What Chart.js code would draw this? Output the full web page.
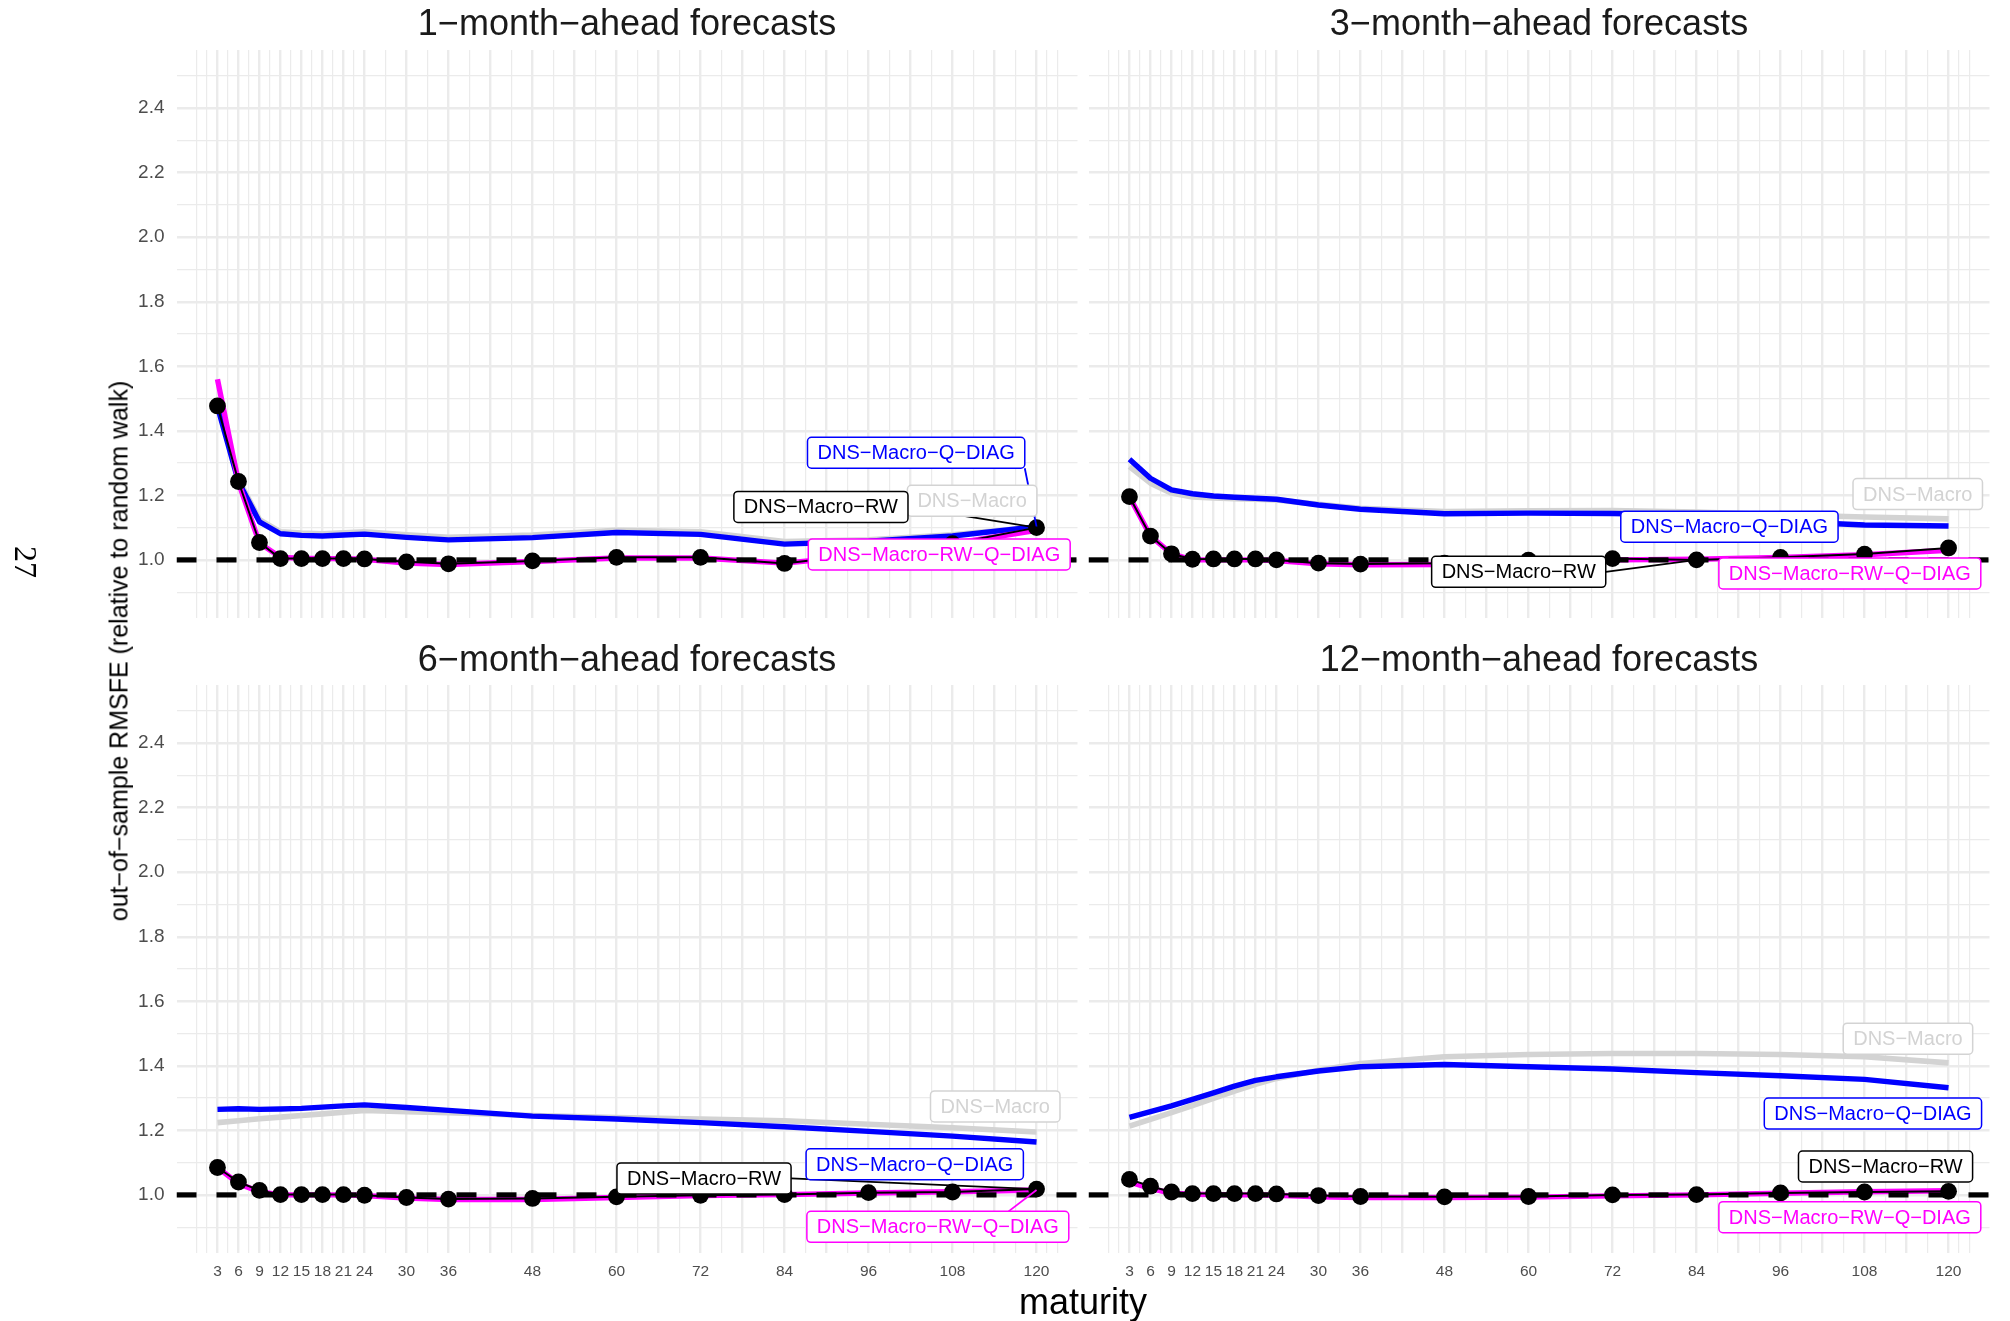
<!DOCTYPE html>
<html>
<head>
<meta charset="utf-8">
<title>Out-of-sample RMSFE by maturity</title>
<script src="https://cdn.jsdelivr.net/npm/chart.js@4.4.1/dist/chart.umd.min.js"></script>
<style>
  html, body { margin: 0; padding: 0; background: #ffffff; }
  #page { position: relative; width: 2010px; height: 1321px; overflow: hidden;
          font-family: "Liberation Sans", Arial, sans-serif; }
  #page canvas { position: absolute; left: 0; top: 0; }
  .txt { position: absolute; white-space: nowrap; line-height: 1; transform: translate(-50%, -50%); }
</style>
</head>
<body>
<div id="page">
  <canvas id="p1" width="2010" height="1321"></canvas>
  <canvas id="p2" width="2010" height="1321"></canvas>
  <canvas id="p3" width="2010" height="1321"></canvas>
  <canvas id="p4" width="2010" height="1321"></canvas>
</div>
<script>
// ---- data -----------------------------------------------------------------
const maturities = [3, 6, 9, 12, 15, 18, 21, 24, 30, 36, 48, 60, 72, 84, 96, 108, 120];

// x breaks (labelled ones are the maturities) and y breaks
const xBreaks = [3, 6, 9, 12, 15, 18, 21, 24, 30, 36, 42, 48, 54, 60, 66, 72, 78, 84, 90, 96, 102, 108, 114, 120];
const xTickLabels = [3, 6, 9, 12, 15, 18, 21, 24, 30, 36, 48, 60, 72, 84, 96, 108, 120];
const yTickLabels = [1.0, 1.2, 1.4, 1.6, 1.8, 2.0, 2.2, 2.4];

const panelTitles = ['1\u2212month\u2212ahead forecasts', '3\u2212month\u2212ahead forecasts',
                     '6\u2212month\u2212ahead forecasts', '12\u2212month\u2212ahead forecasts'];
const seriesNames = ['DNS\u2212Macro', 'DNS\u2212Macro\u2212Q\u2212DIAG', 'DNS\u2212Macro\u2212RW', 'DNS\u2212Macro\u2212RW\u2212Q\u2212DIAG'];

// 1-month-ahead
const macro_h1  = [1.500, 1.250, 1.125, 1.087, 1.083, 1.081, 1.084, 1.087, 1.078, 1.070, 1.077, 1.092, 1.087, 1.057, 1.062, 1.078, 1.102];
const qdiag_h1  = [1.475, 1.242, 1.118, 1.081, 1.076, 1.074, 1.077, 1.080, 1.070, 1.062, 1.069, 1.085, 1.079, 1.049, 1.058, 1.074, 1.103];
const rw_h1     = [1.477, 1.243, 1.054, 1.004, 1.004, 1.004, 1.004, 1.003, 0.994, 0.988, 0.997, 1.008, 1.008, 0.989, 1.020, 1.050, 1.100];
const rwqdiag_h1= [1.560, 1.240, 1.052, 1.008, 1.005, 1.004, 1.004, 1.002, 0.990, 0.986, 0.995, 1.006, 1.006, 0.990, 1.015, 1.050, 1.092];

// 3-month-ahead
const macro_h3  = [1.289, 1.238, 1.207, 1.195, 1.192, 1.190, 1.188, 1.186, 1.172, 1.160, 1.150, 1.152, 1.153, 1.148, 1.140, 1.133, 1.127];
const qdiag_h3  = [1.312, 1.253, 1.217, 1.205, 1.198, 1.194, 1.191, 1.188, 1.170, 1.157, 1.143, 1.145, 1.144, 1.139, 1.120, 1.108, 1.105];
const rw_h3     = [1.196, 1.074, 1.019, 1.002, 1.003, 1.003, 1.003, 1.000, 0.990, 0.987, 0.990, 0.999, 1.004, 1.000, 1.008, 1.018, 1.037];
const rwqdiag_h3= [1.196, 1.074, 1.019, 1.000, 1.000, 1.000, 1.000, 0.998, 0.988, 0.985, 0.986, 0.992, 1.000, 1.002, 1.008, 1.016, 1.030];

// 6-month-ahead
const macro_h6  = [1.224, 1.230, 1.236, 1.241, 1.246, 1.251, 1.256, 1.262, 1.258, 1.255, 1.246, 1.240, 1.235, 1.230, 1.219, 1.208, 1.195];
const qdiag_h6  = [1.265, 1.267, 1.265, 1.266, 1.268, 1.272, 1.276, 1.279, 1.271, 1.262, 1.244, 1.235, 1.224, 1.211, 1.197, 1.182, 1.164];
const rw_h6     = [1.085, 1.040, 1.014, 1.001, 1.001, 1.001, 1.001, 0.999, 0.992, 0.987, 0.989, 0.994, 0.999, 1.001, 1.007, 1.009, 1.018];
const rwqdiag_h6= [1.085, 1.035, 1.010, 1.000, 1.000, 1.000, 1.000, 0.998, 0.990, 0.986, 0.986, 0.992, 0.998, 1.001, 1.006, 1.010, 1.015];

// 12-month-ahead
const macro_h12  = [1.213, 1.234, 1.255, 1.277, 1.299, 1.322, 1.343, 1.361, 1.386, 1.407, 1.428, 1.435, 1.438, 1.438, 1.435, 1.428, 1.409];
const qdiag_h12  = [1.240, 1.258, 1.276, 1.296, 1.316, 1.337, 1.355, 1.366, 1.384, 1.397, 1.404, 1.397, 1.390, 1.379, 1.369, 1.358, 1.332];
const rw_h12     = [1.048, 1.027, 1.009, 1.004, 1.004, 1.004, 1.004, 1.003, 0.998, 0.995, 0.994, 0.995, 1.000, 1.001, 1.006, 1.009, 1.011];
const rwqdiag_h12= [1.040, 1.020, 1.005, 1.002, 1.001, 1.000, 1.000, 0.999, 0.994, 0.992, 0.992, 0.993, 0.997, 1.000, 1.005, 1.010, 1.013];

// random-walk benchmark level
const REF_LEVEL = 1.0;

// ---- styling / layout -------------------------------------------------------
const PAGE_W = 2010, PAGE_H = 1321;
const X_LIMITS = [-2.85, 125.85];
const Y_LIMITS = [0.82, 2.58];
const FONT = '"Liberation Sans", Arial, sans-serif';
const C_GRAY = '#D3D3D3', C_BLUE = '#0000FF', C_BLACK = '#000000', C_MAGENTA = '#FF00FF';
const GRID = '#EBEBEB';
const LABEL_FONT_SIZE = 20, LABEL_PAD_X = 10, LABEL_BOX_H = 31;
const Y_AXIS_W = 70, X_AXIS_H = 45;   // room reserved for tick labels

// plot rectangles [left, top, right, bottom] in page pixels
const panelRects = [
  [176.5, 50, 1077.5, 618],
  [1088.5, 50, 1989.5, 618],
  [176.5, 685, 1077.5, 1253],
  [1088.5, 685, 1989.5, 1253]
];
const titleCenters = [[627, 23], [1539, 23], [627, 659], [1539, 659]];

// ggplot-style minor breaks: midpoints between breaks, extended one step past each end
function minorBreaks(b) {
  const step = b[1] - b[0];
  const ext = [b[0] - step, ...b, b[b.length - 1] + step];
  const out = [];
  for (let i = 0; i < ext.length - 1; i++) { out.push(ext[i], (ext[i] + ext[i + 1]) / 2); }
  out.push(ext[ext.length - 1]);
  return out;
}
const near = (list, v) => list.some(l => Math.abs(l - v) < 1e-6);
const inRange = (v, lim) => v >= lim[0] - 1e-9 && v <= lim[1] + 1e-9;

const xGrid = minorBreaks(xBreaks).filter(v => inRange(v, X_LIMITS));
const yBreaks = yTickLabels;
const yGrid = minorBreaks(yBreaks).filter(v => inRange(v, Y_LIMITS));

function seriesData(vals) { return maturities.map((m, i) => ({ x: m, y: vals[i] })); }
function valueAt(vals, m) { return vals[maturities.indexOf(m)]; }

// label boxes with optional leader segment (placement in data units)
const panelSeries = [
  { macro: macro_h1,  qdiag: qdiag_h1,  rw: rw_h1,  rwq: rwqdiag_h1 },
  { macro: macro_h3,  qdiag: qdiag_h3,  rw: rw_h3,  rwq: rwqdiag_h3 },
  { macro: macro_h6,  qdiag: qdiag_h6,  rw: rw_h6,  rwq: rwqdiag_h6 },
  { macro: macro_h12, qdiag: qdiag_h12, rw: rw_h12, rwq: rwqdiag_h12 }
];
const labelPlacement = [
  [ { s: 0, at: [110.8, 1.183] },
    { s: 1, at: [102.8, 1.332], target: [120, 'qdiag'], anchor: [1, 1] },
    { s: 2, at: [89.2, 1.164],  target: [120, 'rw'],    anchor: [1, 0] },
    { s: 3, at: [106.1, 1.017] } ],
  [ { s: 0, at: [115.6, 1.204] },
    { s: 1, at: [88.7, 1.103] },
    { s: 2, at: [58.6, 0.963],  target: [84, 'rw'],     anchor: [1, 0] },
    { s: 3, at: [105.9, 0.958] } ],
  [ { s: 0, at: [114.1, 1.274] },
    { s: 1, at: [102.6, 1.095] },
    { s: 2, at: [72.5, 1.051],  target: [120, 'rw'],    anchor: [1, 0] },
    { s: 3, at: [105.9, 0.901], target: [120, 'rwq'],   anchor: [0.54, -1] } ],
  [ { s: 0, at: [114.2, 1.484] },
    { s: 1, at: [109.2, 1.252] },
    { s: 2, at: [111.0, 1.088] },
    { s: 3, at: [105.9, 0.931] } ]
];
const seriesColors = [C_GRAY, C_BLUE, C_BLACK, C_MAGENTA];

function roundRect(ctx, x, y, w, h, r) {
  ctx.beginPath();
  ctx.moveTo(x + r, y);
  ctx.lineTo(x + w - r, y); ctx.arcTo(x + w, y, x + w, y + r, r);
  ctx.lineTo(x + w, y + h - r); ctx.arcTo(x + w, y + h, x + w - r, y + h, r);
  ctx.lineTo(x + r, y + h); ctx.arcTo(x, y + h, x, y + h - r, r);
  ctx.lineTo(x, y + r); ctx.arcTo(x, y, x + r, y, r);
  ctx.closePath();
}

const seriesLabels = {
  id: 'seriesLabels',
  afterDatasetsDraw(chart, args, opts) {
    const { ctx } = chart;
    const xs = chart.scales.x, ys = chart.scales.y;
    ctx.save();
    ctx.font = LABEL_FONT_SIZE + 'px ' + FONT;
    const boxes = opts.items.map(it => {
      const text = seriesNames[it.s];
      const w = ctx.measureText(text).width + 2 * LABEL_PAD_X;
      const cx = xs.getPixelForValue(it.at[0]), cy = ys.getPixelForValue(it.at[1]);
      return { it, text, w, h: LABEL_BOX_H, cx, cy, color: seriesColors[it.s] };
    });
    // leader segments first, boxes on top
    boxes.forEach(b => {
      if (!b.it.target) return;
      const [tm, key] = b.it.target;
      const tx = xs.getPixelForValue(tm);
      const ty = ys.getPixelForValue(valueAt(opts.series[key], tm));
      const sx = b.cx + b.it.anchor[0] * b.w / 2;
      const sy = b.cy + b.it.anchor[1] * b.h / 2;
      ctx.beginPath();
      ctx.moveTo(sx, sy); ctx.lineTo(tx, ty);
      ctx.strokeStyle = b.color; ctx.lineWidth = 1.8; ctx.stroke();
    });
    boxes.forEach(b => {
      roundRect(ctx, b.cx - b.w / 2, b.cy - b.h / 2, b.w, b.h, 4);
      ctx.fillStyle = '#ffffff'; ctx.fill();
      ctx.strokeStyle = b.color; ctx.lineWidth = 1.5; ctx.stroke();
      ctx.fillStyle = b.color;
      ctx.textAlign = 'center'; ctx.textBaseline = 'middle';
      ctx.fillText(b.text, b.cx, b.cy + 1);
    });
    ctx.restore();
  }
};

function makePanel(idx) {
  const [L, T, R, B] = panelRects[idx];
  const s = panelSeries[idx];
  const showX = idx >= 2, showY = idx % 2 === 0;
  const canvas = document.getElementById('p' + (idx + 1));
  return new Chart(canvas, {
    type: 'line',
    data: {
      datasets: [
        { label: 'random walk', data: [{ x: X_LIMITS[0], y: REF_LEVEL }, { x: X_LIMITS[1], y: REF_LEVEL }],
          borderColor: C_BLACK, borderWidth: 5.2, borderDash: [20, 20], pointRadius: 0, order: 0 },
        { label: seriesNames[2], data: seriesData(s.rw), borderColor: C_BLACK, borderWidth: 2,
          pointRadius: 8.4, pointBackgroundColor: C_BLACK, pointBorderWidth: 0, order: 1 },
        { label: seriesNames[3], data: seriesData(s.rwq), borderColor: C_MAGENTA, borderWidth: 5.4,
          pointRadius: 0, order: 2 },
        { label: seriesNames[1], data: seriesData(s.qdiag), borderColor: C_BLUE, borderWidth: 5.4,
          pointRadius: 0, order: 3 },
        { label: seriesNames[0], data: seriesData(s.macro), borderColor: C_GRAY, borderWidth: 5.6,
          pointRadius: 0, order: 4 }
      ].map(d => Object.assign({ tension: 0, borderJoinStyle: 'round', borderCapStyle: 'butt', fill: false }, d))
    },
    options: {
      responsive: false, animation: false, devicePixelRatio: 1, events: [],
      layout: { padding: { left: L - Y_AXIS_W, top: T, right: PAGE_W - R, bottom: PAGE_H - B - X_AXIS_H } },
      plugins: {
        legend: { display: false }, tooltip: { enabled: false }, title: { display: false },
        seriesLabels: { items: labelPlacement[idx], series: s }
      },
      scales: {
        x: {
          type: 'linear', min: X_LIMITS[0], max: X_LIMITS[1],
          afterBuildTicks: sc => { sc.ticks = xGrid.map(v => ({ value: v })); },
          afterFit: sc => { sc.height = X_AXIS_H; },
          border: { display: false },
          grid: { color: GRID, drawTicks: false,
                  lineWidth: c => (c.tick && near(xBreaks, c.tick.value)) ? 2.4 : 1.2 },
          ticks: { display: showX, autoSkip: false, maxRotation: 0, minRotation: 0, padding: 9,
                   color: '#4D4D4D', font: { family: FONT, size: 15.5 },
                   callback: v => near(xTickLabels, v) ? String(Math.round(v)) : '' }
        },
        y: {
          type: 'linear', min: Y_LIMITS[0], max: Y_LIMITS[1],
          afterBuildTicks: sc => { sc.ticks = yGrid.map(v => ({ value: v })); },
          afterFit: sc => { sc.width = Y_AXIS_W; },
          border: { display: false },
          grid: { color: GRID, drawTicks: false,
                  lineWidth: c => (c.tick && near(yBreaks, c.tick.value)) ? 2.4 : 1.2 },
          ticks: { display: showY, autoSkip: false, padding: 12,
                   color: '#4D4D4D', font: { family: FONT, size: 19 },
                   callback: v => near(yTickLabels, v) ? v.toFixed(1) : '' }
        }
      }
    },
    plugins: [seriesLabels]
  });
}

[0, 1, 2, 3].forEach(makePanel);

// facet titles, axis titles and the page number as HTML text
const page = document.getElementById('page');
function addText(str, cx, cy, css) {
  const d = document.createElement('div');
  d.className = 'txt';
  d.textContent = str;
  d.style.left = cx + 'px';
  d.style.top = cy + 'px';
  Object.assign(d.style, css || {});
  page.appendChild(d);
  return d;
}
panelTitles.forEach((t, i) => addText(t, titleCenters[i][0], titleCenters[i][1], { fontSize: '36px', color: '#1A1A1A' }));
addText('maturity', 1083, 1302, { fontSize: '36px', color: '#000' });
addText('out\u2212of\u2212sample RMSFE (relative to random walk)', 119, 651,
        { fontSize: '25px', color: '#000', transform: 'translate(-50%, -50%) rotate(-90deg)' });
addText('27', 26, 562, { fontSize: '32px', color: '#000', fontFamily: '"Liberation Serif", serif',
        transform: 'translate(-50%, -50%) rotate(90deg)' });
</script>
</body>
</html>
